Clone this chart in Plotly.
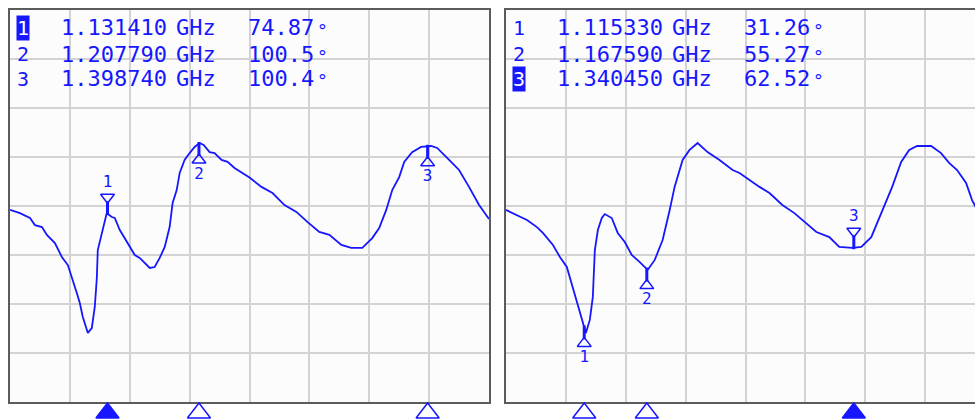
import numpy as np
import plotly.graph_objects as go

# ---------------- data ----------------
freq_left = [1.0500, 1.0583, 1.0667, 1.0708, 1.0767, 1.0808, 1.0875, 1.0933, 1.0983, 1.1017,
             1.1058, 1.1083, 1.1108, 1.1150, 1.1183, 1.1208, 1.1225, 1.1233, 1.1267, 1.1292,
             1.1308, 1.1350, 1.1375, 1.1417, 1.1458, 1.1483, 1.1542, 1.1583, 1.1642, 1.1667,
             1.1708, 1.1750, 1.1792, 1.1833, 1.1858, 1.1892, 1.1917, 1.1958, 1.2000, 1.2042,
             1.2083, 1.2117, 1.2167, 1.2208, 1.2267, 1.2317, 1.2375, 1.2442, 1.2500, 1.2600,
             1.2692, 1.2792, 1.2892, 1.2983, 1.3083, 1.3167, 1.3267, 1.3350, 1.3442, 1.3525,
             1.3583, 1.3642, 1.3692, 1.3750, 1.3792, 1.3858, 1.3933, 1.4017, 1.4067, 1.4167,
             1.4250, 1.4333, 1.4417, 1.4500]
phase_left = [73.4, 72.1, 70.1, 67.2, 66.4, 63.2, 59.9, 54.2, 50.9, 46.0,
              39.5, 35.4, 29.7, 23.2, 25.2, 33.8, 45.6, 57.0, 64.0, 68.5,
              72.1, 70.5, 70.1, 65.2, 61.9, 59.9, 55.0, 53.8, 50.9, 49.7,
              50.1, 53.8, 58.3, 66.4, 76.2, 81.5, 88.5, 93.8, 96.6, 99.1,
              100.7, 99.9, 97.0, 96.6, 93.8, 93.0, 90.5, 88.5, 86.6, 82.8,
              80.3, 75.4, 72.6, 68.5, 64.4, 63.2, 59.1, 57.9, 57.9, 61.9,
              66.0, 73.4, 81.5, 86.8, 93.0, 97.0, 99.1, 99.5, 98.7, 93.8,
              89.7, 82.8, 75.4, 69.7]

freq_right = [1.0500, 1.0592, 1.0675, 1.0758, 1.0808, 1.0892, 1.0950, 1.1008, 1.1050, 1.1092,
              1.1133, 1.1167, 1.1200, 1.1225, 1.1242, 1.1267, 1.1300, 1.1325, 1.1383, 1.1433,
              1.1492, 1.1550, 1.1617, 1.1683, 1.1742, 1.1808, 1.1867, 1.1908, 1.1975, 1.2033,
              1.2100, 1.2183, 1.2283, 1.2392, 1.2450, 1.2533, 1.2617, 1.2700, 1.2808, 1.2908,
              1.3008, 1.3092, 1.3200, 1.3283, 1.3392, 1.3467, 1.3550, 1.3600, 1.3658, 1.3725,
              1.3800, 1.3867, 1.3933, 1.4050, 1.4133, 1.4200, 1.4267, 1.4342, 1.4392, 1.4500]
phase_right = [73.4, 71.3, 69.3, 66.4, 64.0, 59.1, 54.2, 50.1, 42.8, 36.6,
               29.3, 23.2, 28.5, 37.9, 57.0, 65.2, 70.1, 71.7, 70.1, 64.0,
               60.3, 55.0, 52.1, 48.9, 53.0, 61.1, 73.4, 82.8, 93.8, 97.9,
               100.7, 97.0, 93.8, 89.7, 88.5, 85.6, 82.8, 80.3, 75.4, 72.1,
               68.1, 64.4, 62.3, 58.3, 57.9, 58.3, 62.3, 68.1, 74.6, 82.8,
               93.0, 97.9, 99.5, 99.5, 96.6, 92.6, 89.7, 84.4, 77.4, 67.2]

marker_ids = ["1", "2", "3"]
marker_freq_left = [1.131410, 1.207790, 1.398740]
marker_val_left = ["74.87", "100.5", "100.4"]
marker_side_left = [1, -1, -1]
active_left = 0

marker_freq_right = [1.115330, 1.167590, 1.340450]
marker_val_right = ["31.26", "55.27", "62.52"]
marker_side_right = [-1, -1, 1]
active_right = 2

F_START, F_STOP, F_DIV = 1.05, 1.45, 0.05
Y_MIN, Y_MAX, Y_DIV = -5, 155, 20

# ---------------- layout geometry ----------------
W, H = 975, 419
M_L, M_R, M_T, M_B = 10, 0, 10, 0
STRIP = 17                       # pixels under the frames for the marker triangles
PW = W - M_L - M_R
PH = H - M_T - M_B               # paper height in px
MAIN_H = PH - STRIP              # grid height in px
left_px = (0, 479)
right_px = (496, PW)
full_w = left_px[1] - left_px[0]
dpp = (Y_MAX - Y_MIN) / MAIN_H   # degrees per pixel

BLUE = "#1616ff"
FRAME = "#5c5c5c"
GRID = "#d3d3d3"
MONO = "DejaVu Sans Mono"
TXT = 22

right_stop = F_START + (F_STOP - F_START) * (right_px[1] - right_px[0]) / full_w

fig = go.Figure()

panels = [
    dict(xa="x", ya="y", xs="x3", ys="y3", f=freq_left, p=phase_left, mf=marker_freq_left,
         mv=marker_val_left, side=marker_side_left, act=active_left, px0=left_px[0]),
    dict(xa="x2", ya="y2", xs="x4", ys="y4", f=freq_right, p=phase_right, mf=marker_freq_right,
         mv=marker_val_right, side=marker_side_right, act=active_right, px0=right_px[0]),
]

annotations = []
for pnl in panels:
    fig.add_trace(go.Scatter(x=pnl["f"], y=pnl["p"], mode="lines", xaxis=pnl["xa"], yaxis=pnl["ya"],
                             line=dict(color=BLUE, width=1.8), hoverinfo="skip", showlegend=False))
    for i, mf in enumerate(pnl["mf"]):
        y0 = float(np.interp(mf, pnl["f"], pnl["p"]))
        s = pnl["side"][i]
        tri = "triangle-down-open" if s > 0 else "triangle-up-open"
        fig.add_trace(go.Scatter(x=[mf], y=[y0 + s * 16.5 * dpp], mode="markers", xaxis=pnl["xa"], yaxis=pnl["ya"],
                                 marker=dict(symbol=tri, size=12, color=BLUE, line=dict(color=BLUE, width=1.5)),
                                 cliponaxis=False, hoverinfo="skip", showlegend=False))
        fig.add_trace(go.Scatter(x=[mf], y=[y0 + s * 5.5 * dpp], mode="markers", xaxis=pnl["xa"], yaxis=pnl["ya"],
                                 marker=dict(symbol="line-ns", size=10, color=BLUE, line=dict(color=BLUE, width=3)),
                                 cliponaxis=False, hoverinfo="skip", showlegend=False))
        fig.add_trace(go.Scatter(x=[mf], y=[y0 + s * 31 * dpp], mode="text", text=[marker_ids[i]],
                                 xaxis=pnl["xa"], yaxis=pnl["ya"], textposition="middle center",
                                 textfont=dict(family=MONO, size=16, color=BLUE),
                                 cliponaxis=False, hoverinfo="skip", showlegend=False))
        # triangle below the frame (strip sub-axis measured in px from the bottom)
        active = (i == pnl["act"])
        fig.add_trace(go.Scatter(x=[mf], y=[6], mode="markers", xaxis=pnl["xs"], yaxis=pnl["ys"],
                                 marker=dict(symbol="triangle-up" if active else "triangle-up-open", size=20,
                                             color=BLUE, line=dict(color=BLUE, width=1.5)),
                                 cliponaxis=False, hoverinfo="skip", showlegend=False))
        # readout rows
        row_py = [28, 54, 79][i]
        yp = 1 - (row_py - M_T) / PH

        def xp(off, px0=pnl["px0"]):
            return (px0 + off) / PW

        annotations.append(dict(x=xp(13), y=yp, xref="paper", yref="paper", text=marker_ids[i],
                                showarrow=False, xanchor="center", yanchor="middle",
                                font=dict(family=MONO, size=20, color="white" if active else BLUE),
                                bgcolor=BLUE if active else "rgba(0,0,0,0)", borderpad=0))
        annotations.append(dict(x=xp(49), y=yp, xref="paper", yref="paper",
                                text="%.6f" % mf, showarrow=False, xanchor="left", yanchor="middle",
                                font=dict(family=MONO, size=TXT, color=BLUE)))
        annotations.append(dict(x=xp(164), y=yp, xref="paper", yref="paper",
                                text="GHz", showarrow=False, xanchor="left", yanchor="middle",
                                font=dict(family=MONO, size=TXT, color=BLUE)))
        annotations.append(dict(x=xp(236), y=yp, xref="paper", yref="paper",
                                text=pnl["mv"][i], showarrow=False, xanchor="left", yanchor="middle",
                                font=dict(family=MONO, size=TXT, color=BLUE)))
        annotations.append(dict(x=xp(305), y=yp - 2 / PH, xref="paper", yref="paper",
                                text="°", showarrow=False, xanchor="left", yanchor="middle",
                                font=dict(family=MONO, size=18, color=BLUE)))

axis_common = dict(showticklabels=False, ticks="", zeroline=False, showgrid=True,
                   gridcolor=GRID, gridwidth=2, showline=True, linecolor=FRAME, linewidth=2, fixedrange=True)
strip_axis = dict(showticklabels=False, ticks="", zeroline=False, showgrid=False, showline=False,
                  fixedrange=True)

main_dom = [STRIP / PH, 1]
strip_dom = [0, (STRIP - 1) / PH]
left_dom = [left_px[0] / PW, left_px[1] / PW]
right_dom = [right_px[0] / PW, 1]

fig.update_layout(
    width=W, height=H,
    margin=dict(l=M_L, r=M_R, t=M_T, b=M_B, pad=0),
    paper_bgcolor="white",
    plot_bgcolor="#fcfcfc",
    showlegend=False,
    xaxis=dict(domain=left_dom, range=[F_START, F_STOP], tick0=F_START, dtick=F_DIV,
               mirror=True, anchor="y", **axis_common),
    yaxis=dict(domain=main_dom, range=[Y_MIN, Y_MAX], tick0=Y_MIN, dtick=Y_DIV, mirror=True, anchor="x",
               **axis_common),
    xaxis2=dict(domain=right_dom, range=[F_START, right_stop], tick0=F_START, dtick=F_DIV,
                mirror=True, anchor="y2", **axis_common),
    yaxis2=dict(domain=main_dom, range=[Y_MIN, Y_MAX], tick0=Y_MIN, dtick=Y_DIV, mirror=False, anchor="x2",
                **axis_common),
    xaxis3=dict(domain=left_dom, range=[F_START, F_STOP], anchor="y3", **strip_axis),
    yaxis3=dict(domain=strip_dom, range=[0, STRIP - 1], anchor="x3", **strip_axis),
    xaxis4=dict(domain=right_dom, range=[F_START, right_stop], anchor="y4", **strip_axis),
    yaxis4=dict(domain=strip_dom, range=[0, STRIP - 1], anchor="x4", **strip_axis),
    shapes=[dict(type="rect", xref="paper", yref="paper", x0=-0.02, x1=1.0, y0=0, y1=strip_dom[1] + 0.5 / PH,
                 fillcolor="white", line=dict(width=0), layer="below")],
    annotations=annotations,
)

fig.write_html("out.html", config={"displayModeBar": False},
               post_script="document.body.style.margin='0';")
